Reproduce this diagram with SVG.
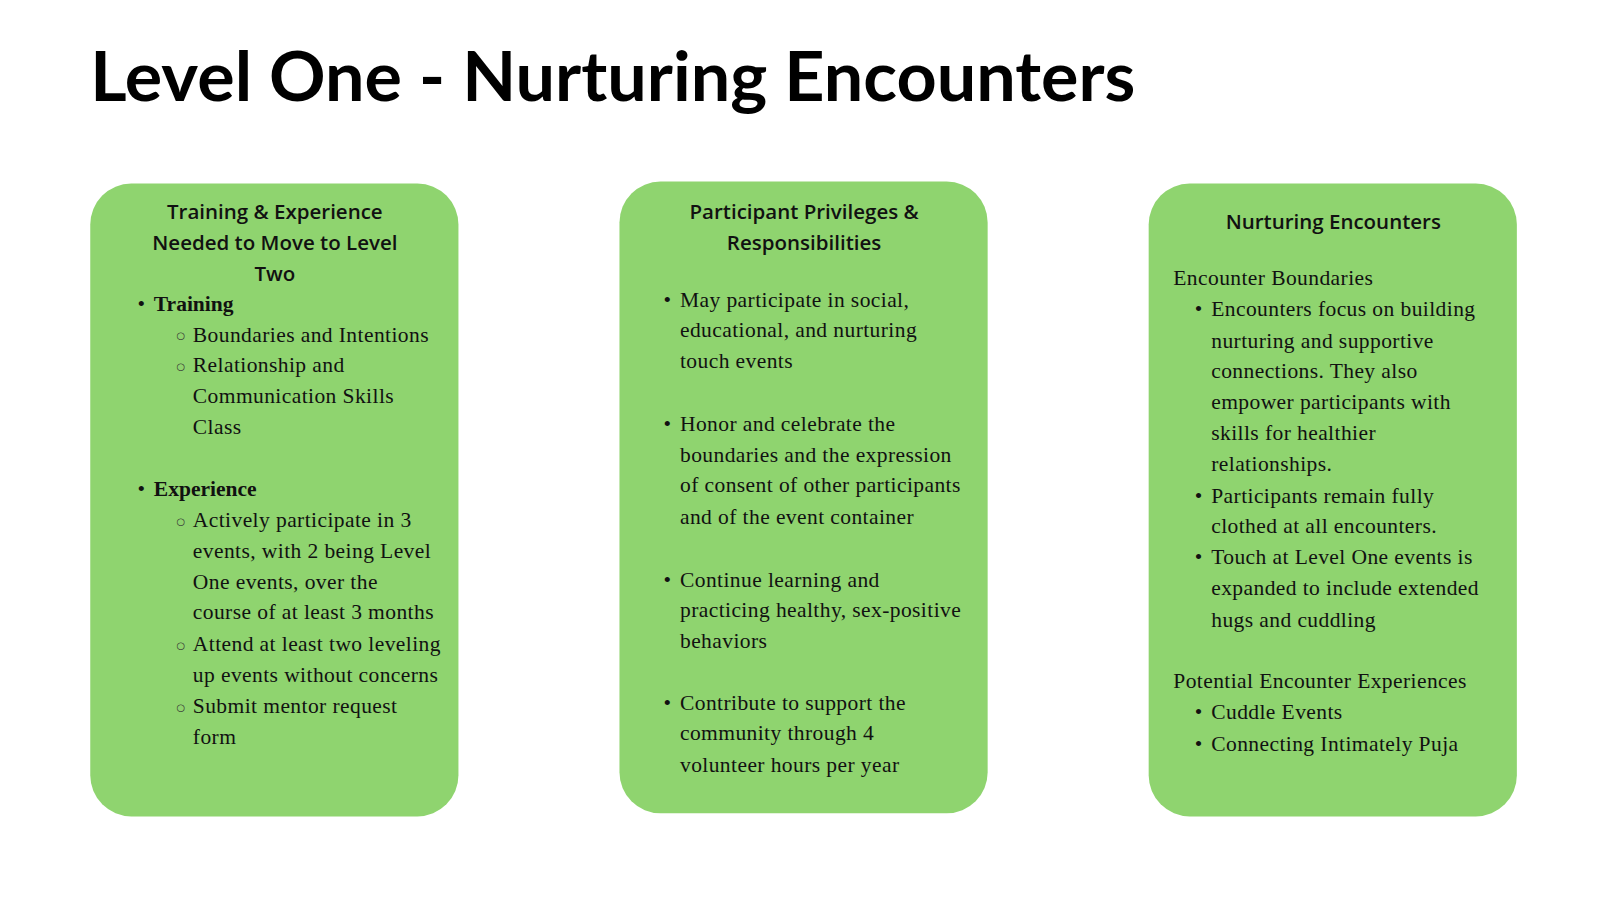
<svg xmlns="http://www.w3.org/2000/svg" width="1600" height="900" viewBox="0 0 1600 900">
<style>
.card{fill:#8fd46f}
.h{font-family:"Open Sans","Liberation Sans",sans-serif;font-weight:600;font-size:20px;fill:#111;text-anchor:middle}
.b{font-family:"Liberation Serif",serif;font-size:21px;letter-spacing:0.4px;fill:#111}
.bb{font-family:"Liberation Serif",serif;font-size:21px;font-weight:bold;fill:#111}
.s{font-family:"DejaVu Sans",sans-serif;font-size:10px;fill:#333}
</style>
<rect width="1600" height="900" fill="#fff"/>
<g transform="scale(1.0256)">
<text x="88" y="98" font-family="Lato,'Liberation Sans',sans-serif" font-weight="bold" font-size="68" fill="#000" textLength="1019" lengthAdjust="spacingAndGlyphs">Level One - Nurturing Encounters</text>
<g id="card1">
<rect class="card" x="88" y="179" width="359" height="617" rx="40"/>
<text class="h" x="268" y="214">Training &amp; Experience</text>
<text class="h" x="268" y="244">Needed to Move to Level</text>
<text class="h" x="268" y="274">Two</text>
<text class="b" x="134" y="303">•</text><text class="bb" x="150" y="303">Training</text>
<text class="s" x="172" y="331">○</text><text class="b" x="188" y="333">Boundaries and Intentions</text>
<text class="s" x="172" y="361">○</text><text class="b" x="188" y="363">Relationship and</text>
<text class="b" x="188" y="393">Communication Skills</text>
<text class="b" x="188" y="423">Class</text>
<text class="b" x="134" y="484">•</text><text class="bb" x="150" y="484">Experience</text>
<text class="s" x="172" y="512">○</text><text class="b" x="188" y="514">Actively participate in 3</text>
<text class="b" x="188" y="544">events, with 2 being Level</text>
<text class="b" x="188" y="574">One events, over the</text>
<text class="b" x="188" y="604">course of at least 3 months</text>
<text class="s" x="172" y="633">○</text><text class="b" x="188" y="635">Attend at least two leveling</text>
<text class="b" x="188" y="665">up events without concerns</text>
<text class="s" x="172" y="693">○</text><text class="b" x="188" y="695">Submit mentor request</text>
<text class="b" x="188" y="725">form</text>
</g>
<g id="card2">
<rect class="card" x="604" y="177" width="359" height="616" rx="40"/>
<text class="h" x="784" y="214">Participant Privileges &amp;</text>
<text class="h" x="784" y="244">Responsibilities</text>
<text class="b" x="647" y="299">•</text><text class="b" x="663" y="299">May participate in social,</text>
<text class="b" x="663" y="329">educational, and nurturing</text>
<text class="b" x="663" y="359">touch events</text>
<text class="b" x="647" y="420">•</text><text class="b" x="663" y="420">Honor and celebrate the</text>
<text class="b" x="663" y="450">boundaries and the expression</text>
<text class="b" x="663" y="480">of consent of other participants</text>
<text class="b" x="663" y="511">and of the event container</text>
<text class="b" x="647" y="572">•</text><text class="b" x="663" y="572">Continue learning and</text>
<text class="b" x="663" y="602">practicing healthy, sex-positive</text>
<text class="b" x="663" y="632">behaviors</text>
<text class="b" x="647" y="692">•</text><text class="b" x="663" y="692">Contribute to support the</text>
<text class="b" x="663" y="722">community through 4</text>
<text class="b" x="663" y="753">volunteer hours per year</text>
</g>
<g id="card3">
<rect class="card" x="1120" y="179" width="359" height="617" rx="40"/>
<text class="h" x="1300" y="223">Nurturing Encounters</text>
<text class="b" x="1144" y="278">Encounter Boundaries</text>
<text class="b" x="1165" y="308">•</text><text class="b" x="1181" y="308">Encounters focus on building</text>
<text class="b" x="1181" y="339">nurturing and supportive</text>
<text class="b" x="1181" y="369">connections. They also</text>
<text class="b" x="1181" y="399">empower participants with</text>
<text class="b" x="1181" y="429">skills for healthier</text>
<text class="b" x="1181" y="459">relationships.</text>
<text class="b" x="1165" y="490">•</text><text class="b" x="1181" y="490">Participants remain fully</text>
<text class="b" x="1181" y="520">clothed at all encounters.</text>
<text class="b" x="1165" y="550">•</text><text class="b" x="1181" y="550">Touch at Level One events is</text>
<text class="b" x="1181" y="580">expanded to include extended</text>
<text class="b" x="1181" y="611">hugs and cuddling</text>
<text class="b" x="1144" y="671">Potential Encounter Experiences</text>
<text class="b" x="1165" y="701">•</text><text class="b" x="1181" y="701">Cuddle Events</text>
<text class="b" x="1165" y="732">•</text><text class="b" x="1181" y="732">Connecting Intimately Puja</text>
</g>
</g>
</svg>
